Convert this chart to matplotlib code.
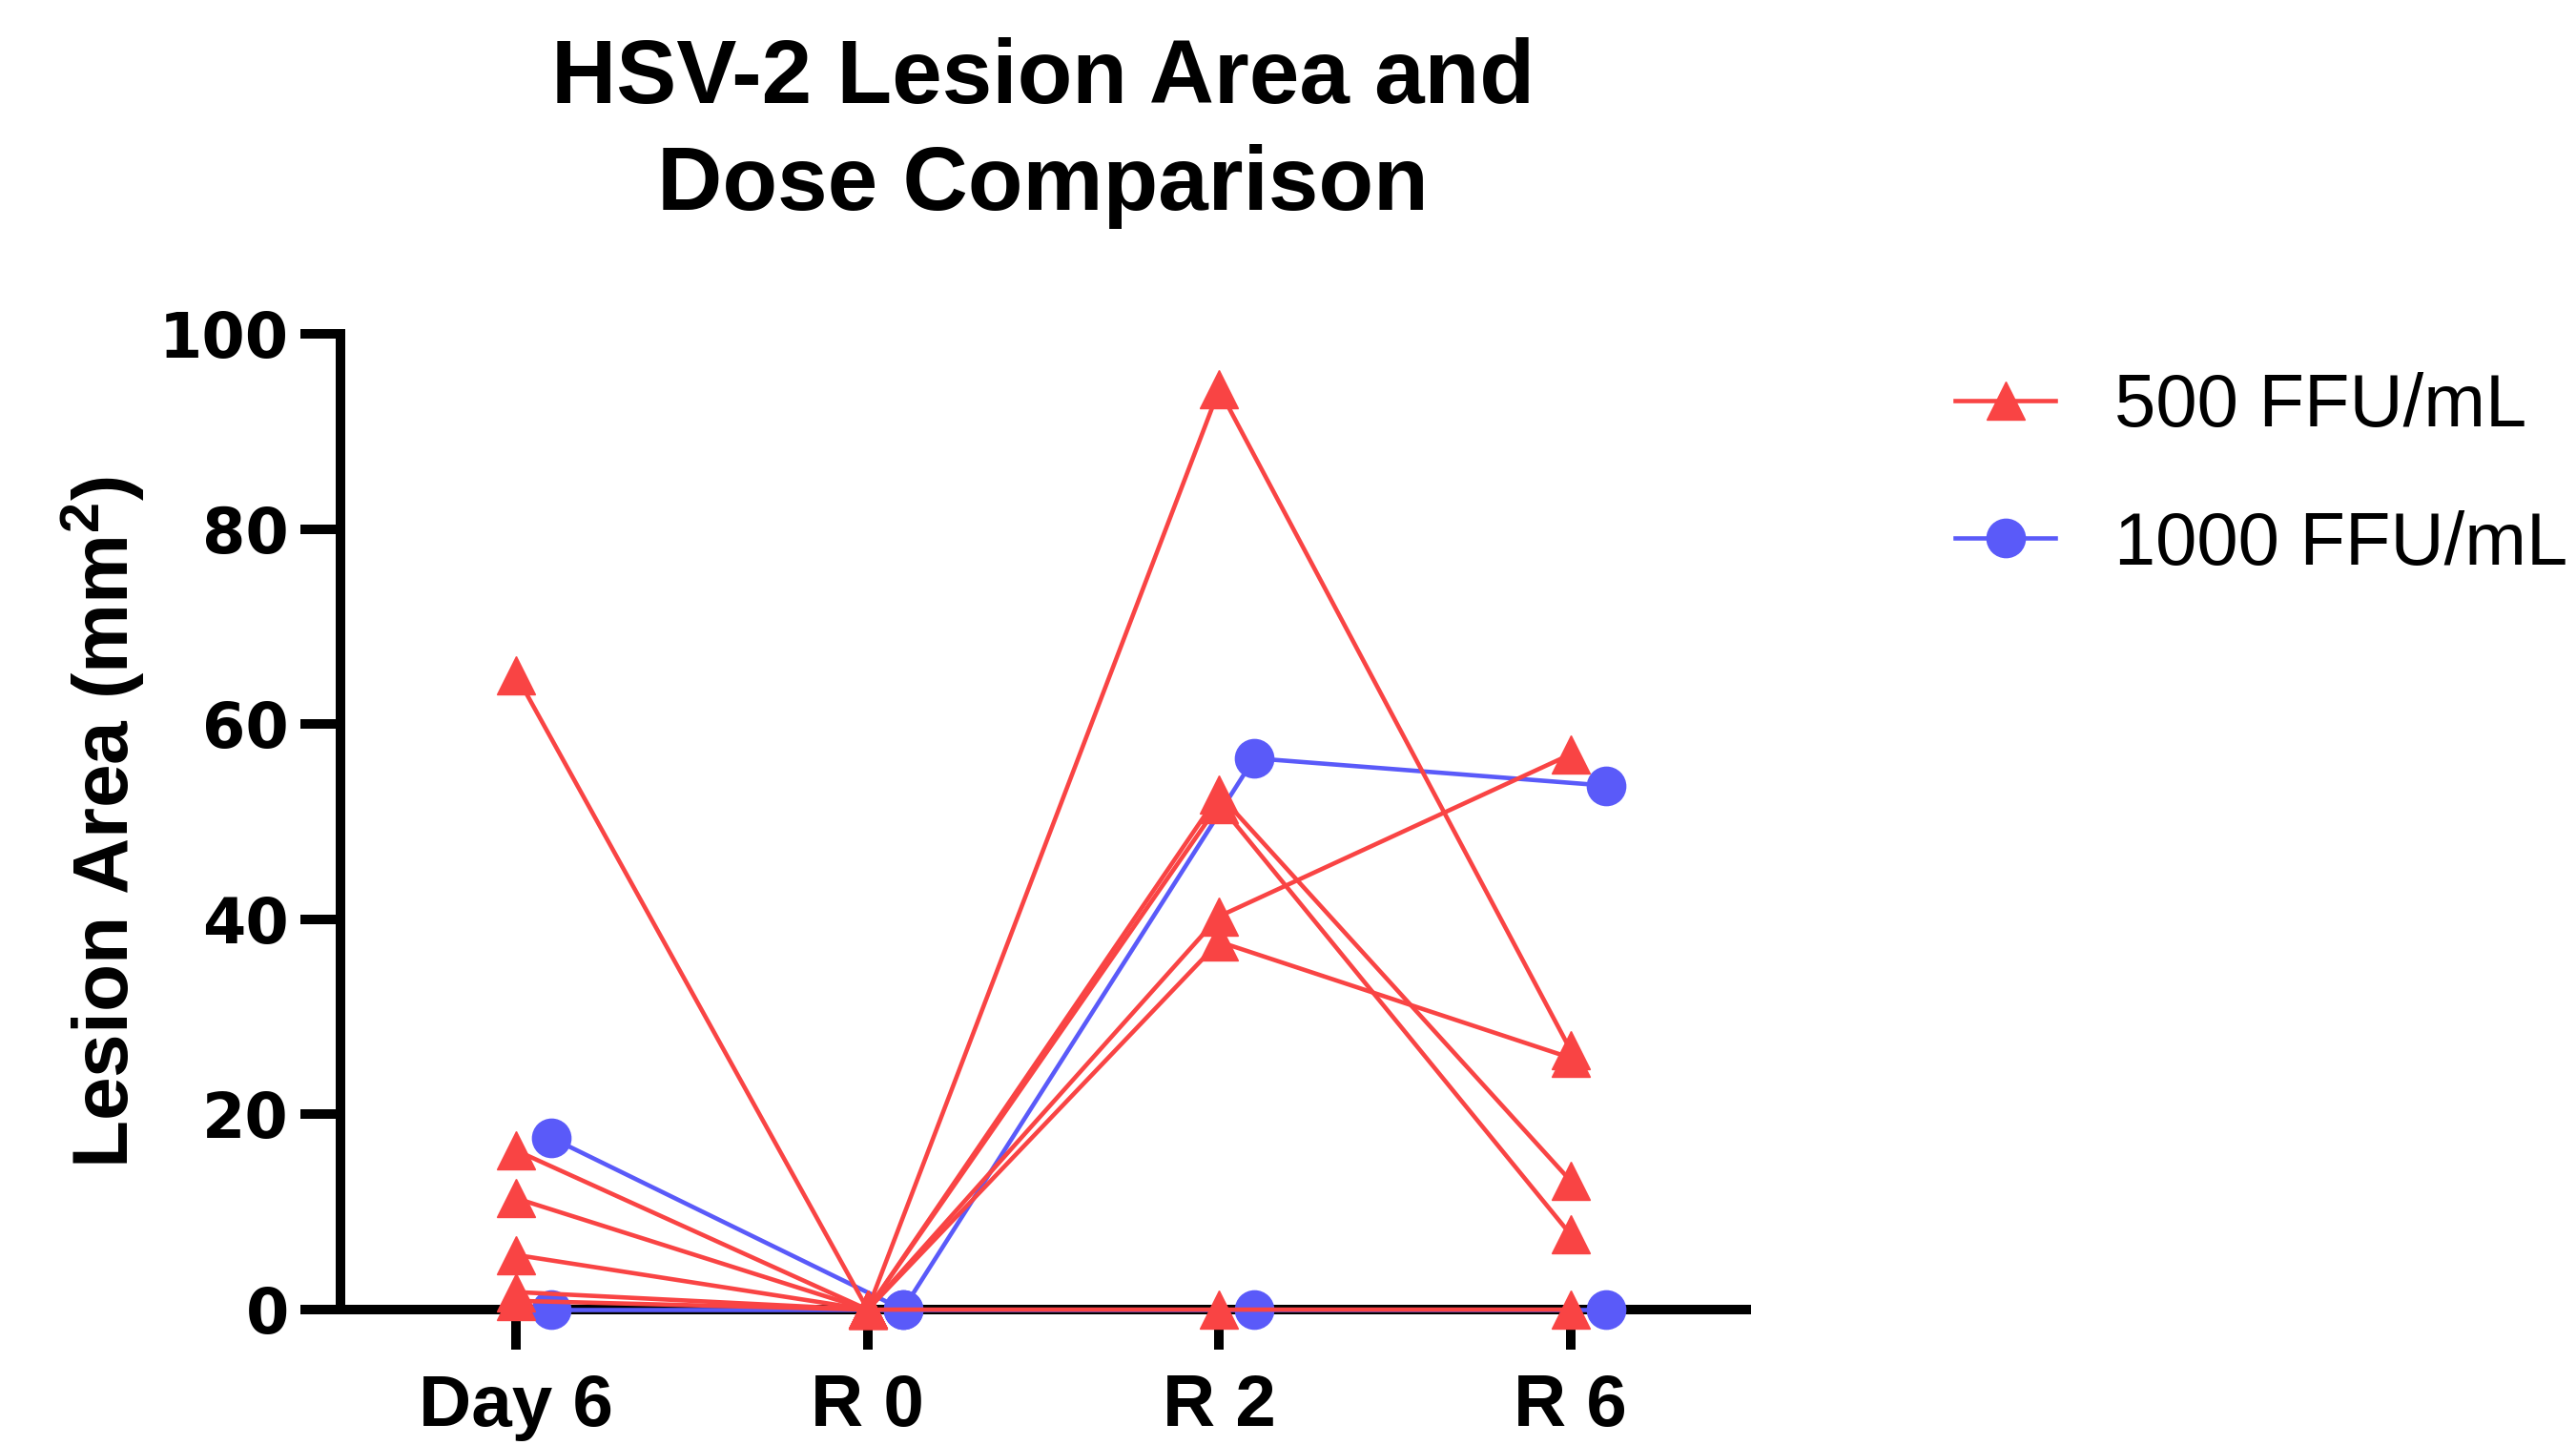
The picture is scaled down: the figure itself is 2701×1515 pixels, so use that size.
#%%
import numpy as np
import matplotlib
matplotlib.use('Agg')
import matplotlib.pyplot as plt

plt.rcParams['font.family'] = ['Liberation Sans', 'DejaVu Sans']
plt.rcParams['mathtext.fontset'] = 'custom'
plt.rcParams['mathtext.bf'] = 'Liberation Sans:bold'
plt.rcParams['mathtext.rm'] = 'Liberation Sans:bold'
plt.rcParams['mathtext.default'] = 'bf'

#%%
# 数据
timepoints = ['Day 6', 'R 0', 'R 2', 'R 6']
dose_500 = [
    [65.0, 0, 94.3, 26.6],
    [16.3, 0, 52.8, 13.2],
    [11.4, 0, 51.8, 7.7],
    [5.6, 0, 40.3, 56.9],
    [1.8, 0, 37.7, 25.8],
    [0.9, 0, 0, 0],
]
dose_1000 = [
    [17.6, 0, 56.5, 53.7],
    [0, 0, 0, 0],
]
labels = ['500 FFU/mL', '1000 FFU/mL']
title_lines = ['HSV-2 Lesion Area and', 'Dose Comparison']

red = '#F94444'
blue = '#5A5AF9'

#%%
fig = plt.figure(figsize=(27.01, 15.15), dpi=100)
ax = fig.add_axes([0.1322, 0.0937, 0.5457, 0.6753])

x = np.arange(len(timepoints))
h_blue = None
for i, row in enumerate(dose_1000):
    l, = ax.plot(x + 0.1, row, color=blue, marker='o', ms=29, lw=3.3,
                 clip_on=False, zorder=3)
    if i == 0:
        h_blue = l
h_red = None
for i, row in enumerate(dose_500):
    l, = ax.plot(x, row, color=red, marker='^', ms=29, lw=3.3,
                 clip_on=False, zorder=4)
    if i == 0:
        h_red = l

ax.set_xlim(-0.5, 3.5)
ax.set_ylim(0, 100)
ax.set_xticks(x)
ax.set_xticklabels(timepoints, fontsize=55, fontweight='bold')
ax.set_yticks([0, 20, 40, 60, 80, 100])
ax.set_yticklabels(['0', '20', '40', '60', '80', '100'],
                   fontsize=47, fontweight='bold', family='DejaVu Sans')
ax.tick_params(axis='both', length=30, width=7.2, color='black')
ax.tick_params(axis='y', pad=9)
ax.tick_params(axis='x', pad=18)
for s in ['top', 'right']:
    ax.spines[s].set_visible(False)
for s in ['left', 'bottom']:
    ax.spines[s].set_linewidth(7.2)
    ax.spines[s].set_capstyle('projecting')

fig.text(0.0405, 0.431, 'Lesion Area (mm$^{2}$)', rotation=90,
         ha='center', va='center', fontsize=59, fontweight='bold')

fig.text(0.4047, 0.9284, title_lines[0], ha='center', va='baseline',
         fontsize=68, fontweight='bold')
fig.text(0.4047, 0.8545, title_lines[1], ha='center', va='baseline',
         fontsize=68, fontweight='bold')

fig.legend([h_red, h_blue], labels, loc='upper left',
           bbox_to_anchor=(2050 / 2701, 1 - 390 / 1515), frameon=False,
           fontsize=56, handlelength=1.35, handletextpad=0.8,
           labelspacing=0.92, borderpad=0, borderaxespad=0)

plt.savefig('out.png', dpi=100)
plt.close()
